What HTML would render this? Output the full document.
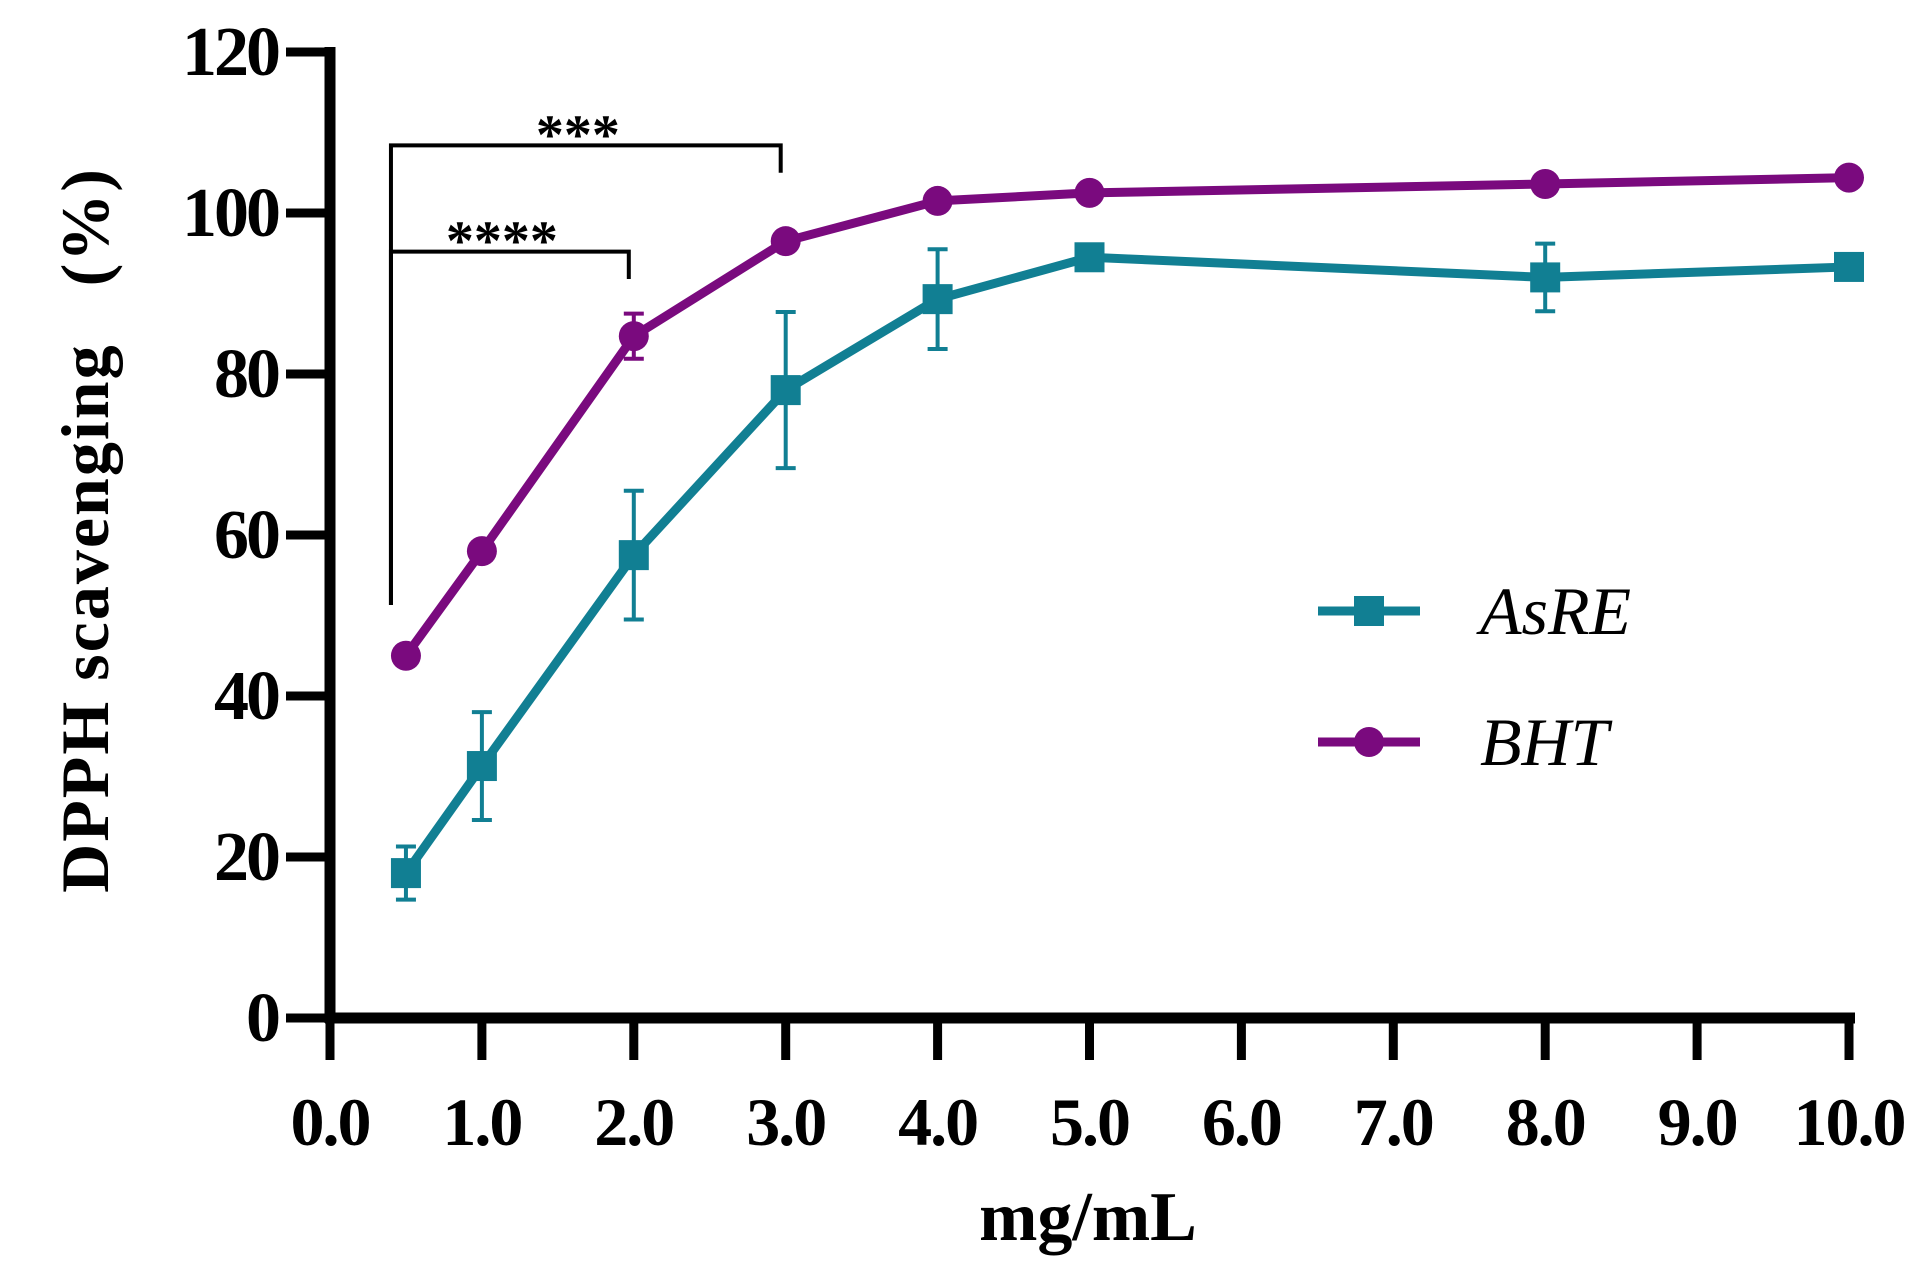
<!DOCTYPE html>
<html><head><meta charset="utf-8"><style>
html,body{margin:0;padding:0;background:#fff;}
svg{display:block;}
text{font-family:"Liberation Serif",serif;}
</style></head><body>
<svg id="chart" width="1926" height="1269" viewBox="0 0 1926 1269" xmlns="http://www.w3.org/2000/svg"></svg>
<script>
const xTicks=["0.0","1.0","2.0","3.0","4.0","5.0","6.0","7.0","8.0","9.0","10.0"];
const yTicks=[0,20,40,60,80,100,120];
const xPos=[0.5,1,2,3,4,5,8,10];
const asreVals=[18,31.3,57.5,78,89.3,94.5,92,93.3];
const asreErr=[3.3,6.7,8,9.7,6.2,1.5,4.2,1.0];
const bhtVals=[45,58,84.7,96.5,101.5,102.5,103.6,104.4];
const bhtErr=[1,0.8,2.8,0.8,0.8,0.6,0.8,0.8];
const NS="http://www.w3.org/2000/svg";
const svg=document.getElementById('chart');
const X0=330,XS=151.9,Y0=1018,YS=(1018-52)/120;
const sx=v=>X0+v*XS, sy=v=>Y0-v*YS;
function el(t,a,p){const e=document.createElementNS(NS,t);for(const k in a)e.setAttribute(k,a[k]);(p||svg).appendChild(e);return e;}
let ya=el('line',{x1:X0,y1:sy(120)-5,x2:X0,y2:Y0+5,stroke:'#000','stroke-width':11});


let xa=el('line',{x1:X0-5,y1:Y0,x2:sx(10)+6,y2:Y0,stroke:'#000','stroke-width':11});


yTicks.forEach(v=>{
  const t=el('line',{x1:X0-44,y1:sy(v),x2:X0,y2:sy(v),stroke:'#000','stroke-width':9});
  
  
  const l=el('text',{x:X0-52,y:sy(v)+23,'text-anchor':'end','font-size':70,'font-weight':'bold','letter-spacing':-3});
  l.textContent=v;
  
  
});
xTicks.forEach((s,i)=>{
  const t=el('line',{x1:sx(i),y1:Y0,x2:sx(i),y2:Y0+42,stroke:'#000','stroke-width':9});
  
  
  const l=el('text',{x:sx(i),y:1145,'text-anchor':'middle','font-size':68,'font-weight':'bold','letter-spacing':-2});
  l.textContent=s;
  
  
});
let xt=el('text',{x:1088,y:1240,'text-anchor':'middle','font-size':70,'font-weight':'bold'});
xt.textContent='mg/mL';


let yt=el('text',{x:0,y:0,'text-anchor':'middle','font-size':68,'font-weight':'bold','letter-spacing':2,transform:'translate(108,530) rotate(-90)'});
yt.textContent='DPPH scavenging\u00a0\u00a0\u00a0(%)';


function bracket(x1,x2,yTop,yL,yR,stars,name){
  const g=el('g',{});
  
  
  el('polyline',{points:`${sx(x1)-15},${sy(yL)} ${sx(x1)-15},${sy(yTop)} ${sx(x2)-5},${sy(yTop)} ${sx(x2)-5},${sy(yR)}`,fill:'none',stroke:'#000','stroke-width':4},g);
  const t=el('text',{x:(sx(x1)+sx(x2))/2-18,y:sy(yTop)+8,'text-anchor':'middle','font-size':56,'font-weight':'bold','font-family':'Liberation Sans'},g);
  t.textContent=stars;
}
bracket(0.5,3,108.4,51.3,105,'***','bracket-0.5-vs-3');
bracket(0.5,2,95.2,51.3,91.8,'****','bracket-0.5-vs-2');
function series(vals,err,color,marker,name){
  const g=el('g',{});
  
  
  vals.forEach((v,i)=>{
    const x=sx(xPos[i]);
    el('line',{x1:x,y1:sy(v-err[i]),x2:x,y2:sy(v+err[i]),stroke:color,'stroke-width':4},g);
    el('line',{x1:x-10,y1:sy(v-err[i]),x2:x+10,y2:sy(v-err[i]),stroke:color,'stroke-width':4},g);
    el('line',{x1:x-10,y1:sy(v+err[i]),x2:x+10,y2:sy(v+err[i]),stroke:color,'stroke-width':4},g);
  });
  const ln=el('polyline',{points:vals.map((v,i)=>sx(xPos[i])+','+sy(v)).join(' '),fill:'none',stroke:color,'stroke-width':9,'stroke-linejoin':'round'},g);
  
  
  vals.forEach((v,i)=>{
    const x=sx(xPos[i]),y=sy(v);
    let m;
    if(marker==='sq') m=el('rect',{x:x-15,y:y-15,width:30,height:30,fill:color},g);
    else m=el('circle',{cx:x,cy:y,r:15,fill:color},g);
    
    
  });
}
const TEAL='#117f93',PURP='#7a0a7e';
series(asreVals,asreErr,TEAL,'sq','asre');
series(bhtVals,bhtErr,PURP,'ci','bht');
function legend(y,color,marker,label,name){
  const g=el('g',{});
  
  
  el('line',{x1:1318,y1:y,x2:1420,y2:y,stroke:color,'stroke-width':9},g);
  if(marker==='sq') el('rect',{x:1354,y:y-15,width:30,height:30,fill:color},g);
  else el('circle',{cx:1369,cy:y,r:15,fill:color},g);
  const t=el('text',{x:1480,y:y+23,'font-size':68,'font-style':'italic'},g);
  t.textContent=label;
}
legend(611,TEAL,'sq','AsRE','legend-asre');
legend(742,PURP,'ci','BHT','legend-bht');
</script>
</body></html>
